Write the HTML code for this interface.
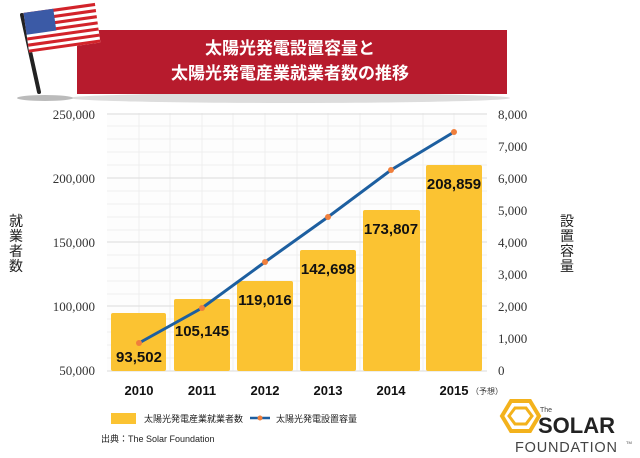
<!DOCTYPE html>
<html><head><meta charset="utf-8"><style>
body{margin:0;background:#fff;}
svg{display:block;}
</style></head><body>
<svg width="640" height="458" viewBox="0 0 640 458" xmlns="http://www.w3.org/2000/svg" font-family="'Liberation Sans','Noto Sans CJK JP',sans-serif">
<defs>
<linearGradient id="sh" x1="0" y1="0" x2="0" y2="1"><stop offset="0" stop-color="#bbb"/><stop offset="1" stop-color="#fff"/></linearGradient>
</defs>
<!-- banner shadow -->
<ellipse cx="290" cy="98" rx="220" ry="5" fill="#ddd"/>
<ellipse cx="45" cy="98" rx="28" ry="3" fill="#bbb"/>
<rect x="77" y="30" width="430" height="64" fill="#b71b2d"/>
<text x="290" y="54" fill="#fff" font-size="17" font-weight="bold" text-anchor="middle">太陽光発電設置容量と</text>
<text x="290" y="79" fill="#fff" font-size="17" font-weight="bold" text-anchor="middle">太陽光発電産業就業者数の推移</text>
<!-- flag -->
<line x1="22" y1="15" x2="39" y2="92" stroke="#222" stroke-width="4" stroke-linecap="round"/>
<g transform="rotate(-8 60 28)">
<rect x="26" y="8" width="72" height="40" fill="#fff"/>
<g fill="#d2232a">
<rect x="26" y="8" width="72" height="3.1"/><rect x="26" y="14.2" width="72" height="3.1"/><rect x="26" y="20.4" width="72" height="3.1"/><rect x="26" y="26.6" width="72" height="3.1"/><rect x="26" y="32.8" width="72" height="3.1"/><rect x="26" y="39" width="72" height="3.1"/><rect x="26" y="45" width="72" height="3"/>
</g>
<rect x="26" y="8" width="30" height="22" fill="#3b5aa6"/>
</g>
<!-- grid -->
<rect x="107" y="113" width="380" height="258" fill="#fdfdfd"/>
<g stroke="#eee" stroke-width="1">
<line x1="107" y1="126" x2="487" y2="126"/><line x1="107" y1="139" x2="487" y2="139"/><line x1="107" y1="152" x2="487" y2="152"/><line x1="107" y1="165" x2="487" y2="165"/>
<line x1="107" y1="191" x2="487" y2="191"/><line x1="107" y1="204" x2="487" y2="204"/><line x1="107" y1="217" x2="487" y2="217"/><line x1="107" y1="230" x2="487" y2="230"/>
<line x1="107" y1="255" x2="487" y2="255"/><line x1="107" y1="268" x2="487" y2="268"/><line x1="107" y1="281" x2="487" y2="281"/><line x1="107" y1="294" x2="487" y2="294"/>
<line x1="107" y1="319" x2="487" y2="319"/><line x1="107" y1="332" x2="487" y2="332"/><line x1="107" y1="345" x2="487" y2="345"/><line x1="107" y1="358" x2="487" y2="358"/>
<line x1="139" y1="113" x2="139" y2="371"/><line x1="170" y1="113" x2="170" y2="371"/><line x1="202" y1="113" x2="202" y2="371"/><line x1="233" y1="113" x2="233" y2="371"/><line x1="265" y1="113" x2="265" y2="371"/><line x1="297" y1="113" x2="297" y2="371"/><line x1="328" y1="113" x2="328" y2="371"/><line x1="360" y1="113" x2="360" y2="371"/><line x1="391" y1="113" x2="391" y2="371"/><line x1="423" y1="113" x2="423" y2="371"/><line x1="454" y1="113" x2="454" y2="371"/>
</g>
<g stroke="#e2e2e2" stroke-width="1.2">
<line x1="107" y1="114" x2="487" y2="114"/><line x1="107" y1="178" x2="487" y2="178"/><line x1="107" y1="242" x2="487" y2="242"/><line x1="107" y1="306" x2="487" y2="306"/><line x1="107" y1="371" x2="487" y2="371"/>
</g>
<!-- bars -->
<g fill="#fbc332">
<rect x="111" y="313" width="55" height="58" rx="2"/>
<rect x="174" y="299" width="56" height="72" rx="2"/>
<rect x="237" y="281" width="56" height="90" rx="2"/>
<rect x="300" y="250" width="56" height="121" rx="2"/>
<rect x="363" y="210" width="57" height="161" rx="2"/>
<rect x="426" y="165" width="56" height="206" rx="2"/>
</g>
<!-- line -->
<polyline points="139,343 202,308 265,262 328,217 391,170 454,132" fill="none" stroke="#1d5fa0" stroke-width="3"/>
<g fill="#f07f3c"><circle cx="139" cy="343" r="3"/><circle cx="202" cy="308" r="3"/><circle cx="265" cy="262" r="3"/><circle cx="328" cy="217" r="3"/><circle cx="391" cy="170" r="3"/><circle cx="454" cy="132" r="3"/></g>
<!-- bar labels -->
<g font-size="15" font-weight="bold" fill="#111" text-anchor="middle">
<text x="139" y="362">93,502</text>
<text x="202" y="336">105,145</text>
<text x="265" y="305">119,016</text>
<text x="328" y="274">142,698</text>
<text x="391" y="234">173,807</text>
<text x="454" y="189">208,859</text>
</g>
<!-- axes labels -->
<g font-size="13" fill="#333" text-anchor="end" font-family="'Liberation Serif',serif">
<text x="95" y="119">250,000</text><text x="95" y="183">200,000</text><text x="95" y="247">150,000</text><text x="95" y="311">100,000</text><text x="95" y="375">50,000</text>
</g>
<g font-size="13" fill="#333" font-family="'Liberation Serif',serif">
<text x="498" y="119">8,000</text><text x="498" y="151">7,000</text><text x="498" y="183">6,000</text><text x="498" y="215">5,000</text><text x="498" y="247">4,000</text><text x="498" y="279">3,000</text><text x="498" y="311">2,000</text><text x="498" y="343">1,000</text><text x="498" y="375">0</text>
</g>
<g font-size="14" fill="#222" text-anchor="middle">
<text x="16" y="226">就</text><text x="16" y="241">業</text><text x="16" y="256">者</text><text x="16" y="271">数</text>
<text x="567" y="226">設</text><text x="567" y="241">置</text><text x="567" y="256">容</text><text x="567" y="271">量</text>
</g>
<g font-size="13" font-weight="bold" fill="#111" text-anchor="middle">
<text x="139" y="395">2010</text><text x="202" y="395">2011</text><text x="265" y="395">2012</text><text x="328" y="395">2013</text><text x="391" y="395">2014</text><text x="454" y="395">2015</text>
</g>
<text x="471" y="394" font-size="8" fill="#333">（予想）</text>
<!-- legend -->
<rect x="111" y="413" width="25" height="11" fill="#fbc332"/>
<text x="144" y="422" font-size="9" fill="#222">太陽光発電産業就業者数</text>
<line x1="250" y1="418" x2="270" y2="418" stroke="#1d5fa0" stroke-width="2.5"/>
<circle cx="260" cy="418" r="2.5" fill="#f07f3c"/>
<text x="276" y="422" font-size="9" fill="#222">太陽光発電設置容量</text>
<text x="101" y="442" font-size="9" fill="#222">出典：The Solar Foundation</text>
<!-- logo -->
<polygon points="511,401 530,401 539,416 530,431 511,431 502,416" fill="none" stroke="#f3b21c" stroke-width="4"/>
<polygon points="515,408 526,408 532,416 526,424 515,424 509,416" fill="none" stroke="#f3b21c" stroke-width="3"/>
<text x="540" y="412" font-size="7" fill="#444">The</text>
<text x="538" y="433" font-size="22" font-weight="bold" fill="#222">SOLAR</text>
<text x="515" y="452" font-size="14.5" fill="#444" letter-spacing="0.8">FOUNDATION</text>
<text x="626" y="444" font-size="4" fill="#444">TM</text>
</svg>
</body></html>
